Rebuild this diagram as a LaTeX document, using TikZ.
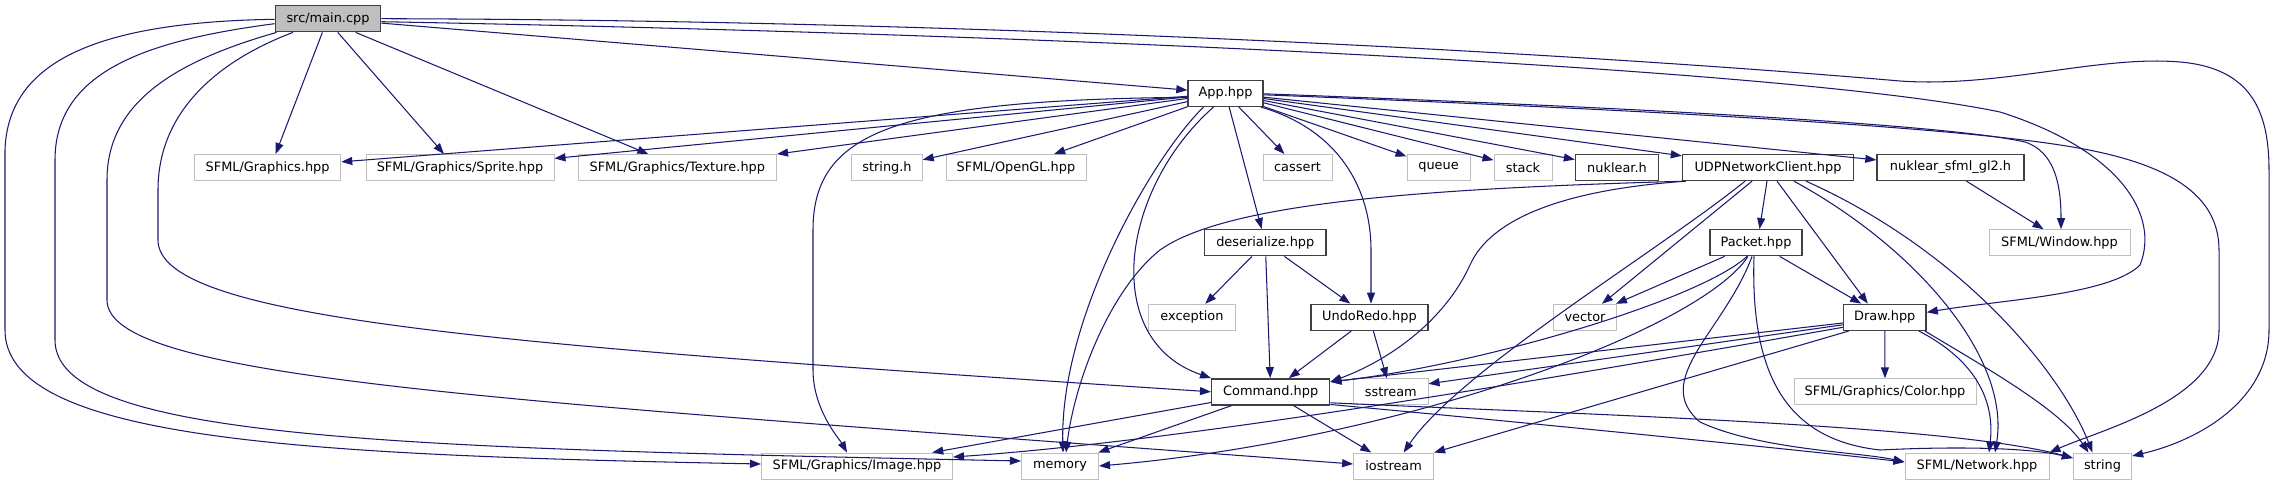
\documentclass[tikz,border=0pt]{standalone}
\usepackage{fontspec}
\setmainfont{DejaVu Sans}
\usetikzlibrary{arrows.meta,calc}
\definecolor{edgec}{HTML}{191970}
\definecolor{extc}{HTML}{BFBFBF}
\definecolor{docc}{HTML}{404040}
\definecolor{mainfill}{HTML}{BFBFBF}
\tikzset{
  nd/.style={rectangle, minimum height=26pt, inner sep=0pt, font=\fontsize{12.9}{15}\selectfont},
  ext/.style={nd, draw=extc, line width=1pt, fill=white},
  doc/.style={nd, draw=docc, line width=1.4pt, fill=white},
  mainnode/.style={nd, draw=docc, line width=1.4pt, fill=mainfill},
  e/.style={draw=edgec, line width=1.05pt, -{Triangle[length=11pt,width=8pt]}},
}
\begin{document}
\begin{tikzpicture}[x=1pt,y=-1pt]
\useasboundingbox (0,0) rectangle (2275,485);
% row 0
\node[mainnode, minimum width=105.5pt] (main) at (328,18.7) {src/main.cpp};
% row 1
\node[doc, minimum width=75pt] (App) at (1225.5,93.3) {App.hpp};
% row 2
\node[ext, minimum width=146.4pt] (Graphics) at (267.6,167.5) {SFML/Graphics.hpp};
\node[ext, minimum width=188pt] (Sprite) at (460,167.5) {SFML/Graphics/Sprite.hpp};
\node[ext, minimum width=198.5pt] (Texture) at (677.3,167.5) {SFML/Graphics/Texture.hpp};
\node[ext, minimum width=70.5pt] (stringh) at (887,167.5) {string.h};
\node[ext, minimum width=140pt] (OpenGL) at (1016,167.5) {SFML/OpenGL.hpp};
\node[ext, minimum width=69pt] (cassert) at (1297.5,167.5) {cassert};
\node[ext, minimum width=63pt] (queue) at (1438.5,167.5) {queue};
\node[ext, minimum width=58pt] (stack) at (1523,167.5) {stack};
\node[doc, minimum width=83pt] (nuklearh) at (1617,167.5) {nuklear.h};
\node[doc, minimum width=171pt] (UDP) at (1768,167.5) {UDPNetworkClient.hpp};
\node[doc, minimum width=147pt] (nsfml) at (1950.5,167.5) {nuklear\_sfml\_gl2.h};
% row 3
\node[doc, minimum width=121.4pt] (deser) at (1265.3,242.7) {deserialize.hpp};
\node[doc, minimum width=92pt] (Packet) at (1756,242.7) {Packet.hpp};
\node[ext, minimum width=141pt] (Window) at (2059.5,242.7) {SFML/Window.hpp};
% row 4
\node[ext, minimum width=87pt] (exception) at (1192,317.3) {exception};
\node[doc, minimum width=117pt] (UndoRedo) at (1369.4,317.3) {UndoRedo.hpp};
\node[ext, minimum width=63pt] (vector) at (1585,317.3) {vector};
\node[doc, minimum width=82.6pt] (Draw) at (1884.8,317.3) {Draw.hpp};
% row 5
\node[doc, minimum width=118pt] (Command) at (1270.7,391.8) {Command.hpp};
\node[ext, minimum width=74.4pt] (sstream) at (1390.8,391.8) {sstream};
\node[ext, minimum width=182pt] (Color) at (1885,391.8) {SFML/Graphics/Color.hpp};
% row 6
\node[ext, minimum width=191pt] (Image) at (857,466) {SFML/Graphics/Image.hpp};
\node[ext, minimum width=77pt] (memory) at (1060,466) {memory};
\node[ext, minimum width=80pt] (iostream) at (1393.6,466) {iostream};
\node[ext, minimum width=144pt] (Network) at (1977,466) {SFML/Network.hpp};
\node[ext, minimum width=58.3pt] (stringn) at (2102.5,466) {string};

% ---- main.cpp edges
\draw[e] (main) -- (App);
\draw[e] ($(main.south)+(-5.6,0)$) -- ($(Graphics.north)+(8,0)$);
\draw[e] ($(main.south)+(9.8,0)$) -- ($(Sprite.north)+(-16,0)$);
\draw[e] ($(main.south)+(27.6,0)$) -- ($(Texture.north)+(-29,0)$);
\draw[e] ($(main.west)+(0,0.6)$) .. controls (100,22) and (8,60) .. (5,150) -- (5,330) .. controls (5,440) and (300,455) .. ($(Image.west)+(0,-2)$);
\draw[e] ($(main.west)+(0,5)$) .. controls (150,40) and (55,70) .. (55,160) -- (55,340) .. controls (55,440) and (400,448) .. ($(memory.west)+(0,-5)$);
\draw[e] ($(main.south west)+(2,0)$) .. controls (180,60) and (107,100) .. (107,180) -- (107,300) .. controls (107,380) and (500,400) .. ($(iostream.west)+(0,-2)$);
\draw[e] ($(main.south)+(-35,0)$) .. controls (220,60) and (158,110) .. (158,190) -- (158,240) .. controls (158,320) and (500,345) .. (Command.west);
\draw[e] ($(main.east)+(0,3)$) .. controls (1100,35) and (1800,70) .. (2000,112) .. controls (2120,150) and (2160,215) .. (2140,265) .. controls (2110,295) and (2000,300) .. ($(Draw.east)+(0,-5)$);
\draw[e] (main.east) .. controls (1000,20) and (1600,55) .. (1900,81) .. controls (2000,88) and (2100,55) .. (2180,62) .. controls (2250,68) and (2269,110) .. (2269,170) -- (2269,330) .. controls (2269,400) and (2200,440) .. ($(stringn.east)+(0,-10)$);

% ---- App.hpp edges
\draw[e] (App) -- (Graphics);
\draw[e] (App) -- (Sprite);
\draw[e] (App) -- (Texture);
\draw[e] (App) -- (stringh);
\draw[e] (App) -- (OpenGL);
\draw[e] (App) -- (cassert);
\draw[e] (App) -- (queue);
\draw[e] (App) -- (stack);
\draw[e] (App) -- (nuklearh);
\draw[e] (App) -- (UDP);
\draw[e] (App) -- (nsfml);
\draw[e] (App) -- (deser);
\draw[e] ($(App.west)+(0,4)$) .. controls (900,100) and (813,130) .. (813,230) -- (813,370) .. controls (813,410) and (840,440) .. ($(Image.north)+(-10,0)$);
\draw[e] ($(App.south)+(-22,0)$) .. controls (1150,160) and (1060,320) .. ($(memory.north)+(3,0)$);
\draw[e] ($(App.south)+(-12,0)$) .. controls (1120,190) and (1100,340) .. (Command.north west);
\draw[e] ($(App.south east)+(-3,0)$) .. controls (1340,130) and (1371,190) .. (1371,250) -- ($(UndoRedo.north)+(1.6,0)$);
\draw[e] ($(App.east)+(0,0.5)$) .. controls (1650,108) and (1950,125) .. (2025,142) .. controls (2055,152) and (2061,185) .. ($(Window.north)+(1.5,0)$);
\draw[e] ($(App.east)+(0,1.5)$) .. controls (1700,112) and (1950,128) .. (2060,145) .. controls (2160,160) and (2219,190) .. (2219,250) -- (2219,330) .. controls (2219,400) and (2100,430) .. (Network.north east);

% ---- deserialize / UndoRedo
\draw[e] (deser) -- (exception);
\draw[e] (deser) -- (Command);
\draw[e] (deser) -- (UndoRedo);
\draw[e] (UndoRedo) -- (Command);
\draw[e] (UndoRedo) -- (sstream);

% ---- Command.hpp
\draw[e] (Command) -- (Image);
\draw[e] (Command) -- (memory);
\draw[e] (Command) -- (iostream);
\draw[e] ($(Command.east)+(0,11)$) .. controls (1600,415) and (1950,425) .. ($(stringn.west)+(0,-8)$);
\draw[e] ($(Command.south east)+(0,-1)$) .. controls (1500,420) and (1800,450) .. ($(Network.west)+(0,-4)$);

% ---- Packet.hpp
\draw[e] (Packet) -- (vector);
\draw[e] (Packet) -- (Draw);
\draw[e] ($(Packet.south)+(-9,0)$) .. controls (1700,300) and (1480,365) .. ($(Command.east)+(0,-10)$);
\draw[e] ($(Packet.south)+(-8,0)$) .. controls (1700,330) and (1400,440) .. (memory.east);
\draw[e] ($(Packet.south)+(-4,0)$) .. controls (1725,330) and (1650,380) .. (1700,422) .. controls (1760,450) and (1860,452) .. ($(Network.west)+(0,-4)$);
\draw[e] ($(Packet.south)+(-2,0)$) .. controls (1750,380) and (1790,440) .. (1880,450) .. controls (1960,446) and (2030,448) .. ($(stringn.west)+(0,-8)$);

% ---- Draw.hpp
\draw[e] ($(Draw.west)+(0,5.7)$) -- ($(Command.east)+(0,-10)$);
\draw[e] ($(Draw.west)+(0,7.5)$) -- ($(sstream.east)+(0,-8)$);
\draw[e] ($(Draw.west)+(0,10)$) .. controls (1600,370) and (1200,440) .. ($(Image.east)+(0,-9)$);
\draw[e] ($(Draw.south west)+(6,0)$) -- (iostream.north east);
\draw[e] (Draw) -- (Color);
\draw[e] ($(Draw.south east)+(-8,0)$) .. controls (1975,360) and (1995,400) .. ($(Network.north)+(12,0)$);
\draw[e] ($(Draw.south east)+(-2,0)$) .. controls (1990,370) and (2060,410) .. ($(stringn.north)+(-14,0)$);

% ---- UDPNetworkClient.hpp
\draw[e] ($(UDP.south west)+(2,0)$) .. controls (1450,188) and (1230,200) .. (1160,250) .. controls (1110,290) and (1075,380) .. ($(memory.north)+(6,0)$);
\draw[e] ($(UDP.south west)+(4,0)$) .. controls (1560,190) and (1490,220) .. (1470,265) .. controls (1445,320) and (1390,360) .. ($(Command.east)+(0,-10)$);
\draw[e] ($(UDP.south)+(-23,0)$) .. controls (1660,250) and (1460,370) .. ($(iostream.north)+(10,0)$);
\draw[e] ($(UDP.south)+(-16,0)$) -- ($(vector.north)+(17,0)$);
\draw[e] ($(UDP.south)+(-1,0)$) -- ($(Packet.north)+(3.5,0)$);
\draw[e] ($(UDP.south)+(9,0)$) -- ($(Draw.north)+(-17,0)$);
\draw[e] ($(UDP.south)+(26,0)$) .. controls (1920,250) and (2010,360) .. ($(Network.north)+(18,0)$);
\draw[e] ($(UDP.south)+(38,0)$) .. controls (1960,250) and (2060,370) .. ($(stringn.north)+(-10,0)$);

% ---- nuklear_sfml_gl2.h
\draw[e] ($(nsfml.south)+(16,0)$) -- ($(Window.north)+(-16,0)$);
\end{tikzpicture}
\end{document}
